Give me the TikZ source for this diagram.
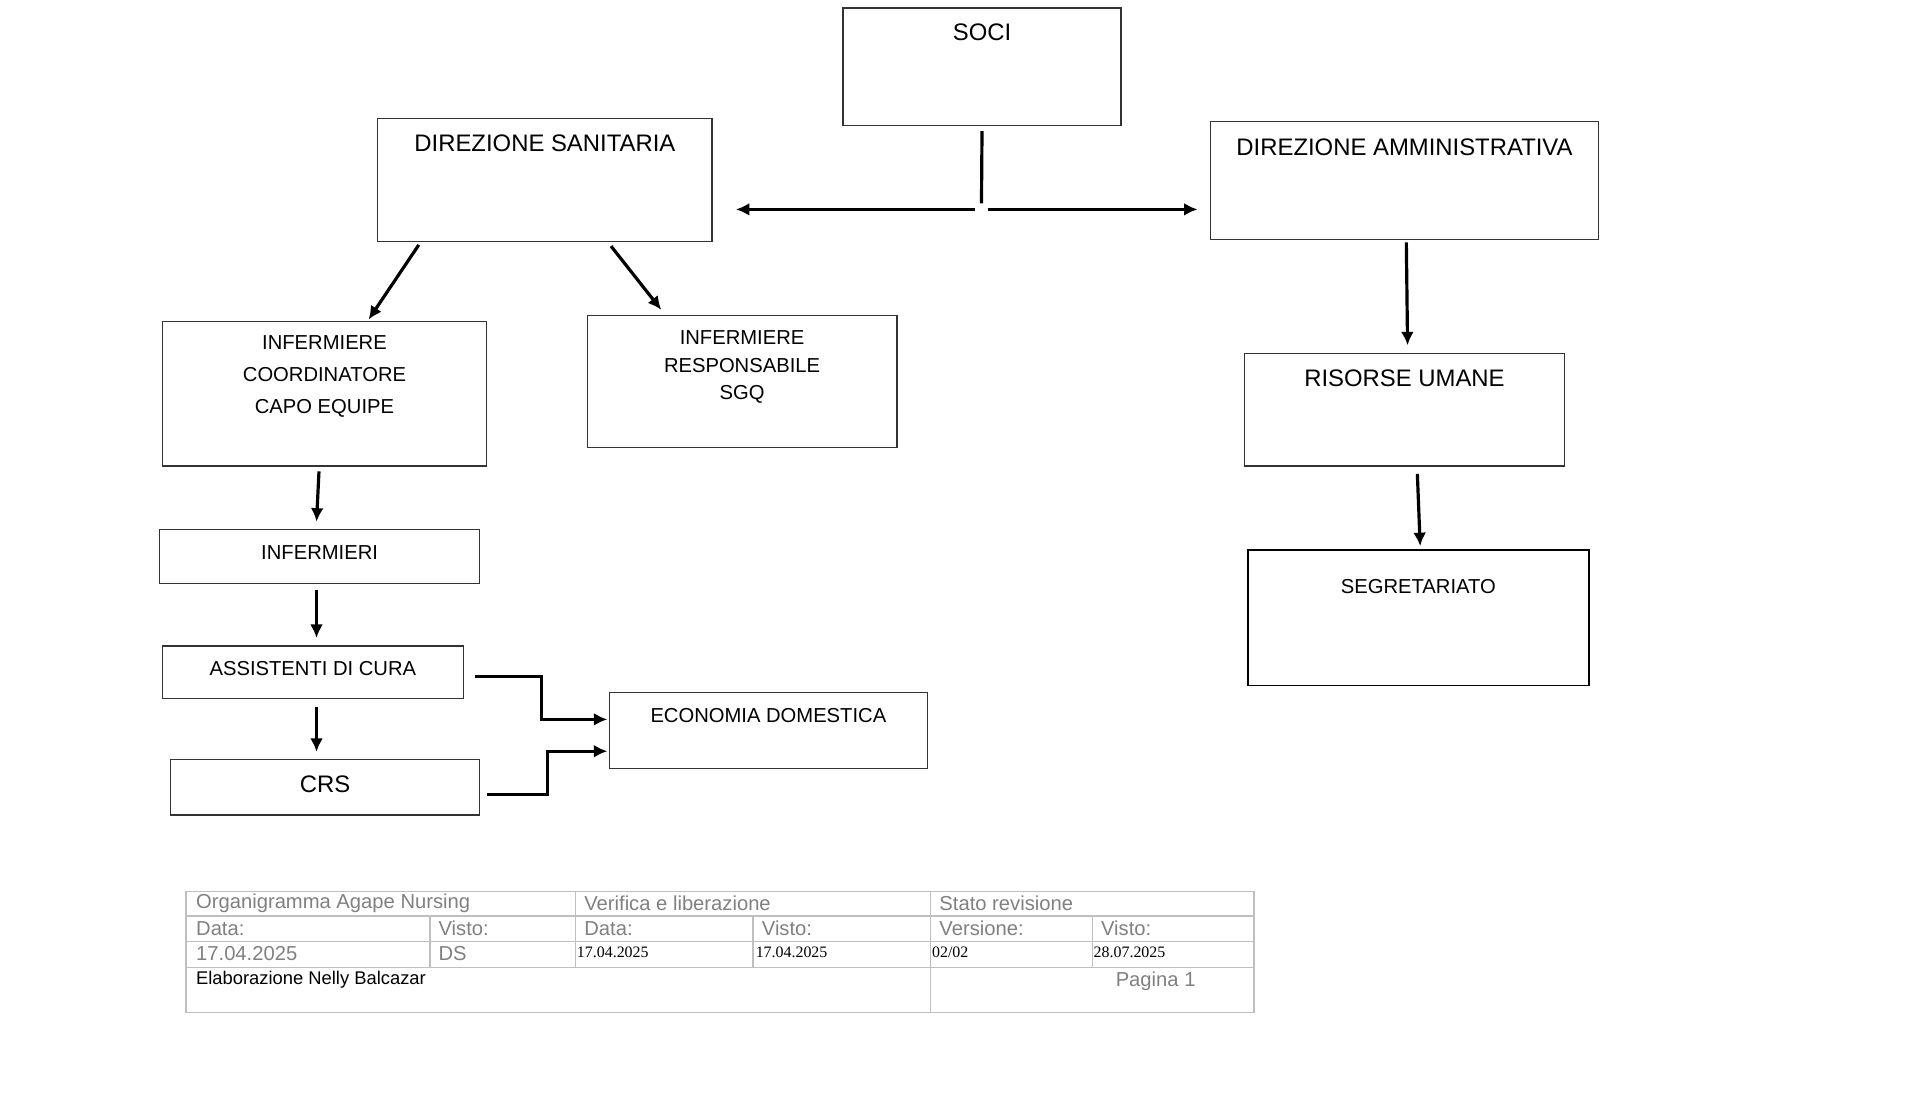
\documentclass[tikz,border=0pt]{standalone}
\usepackage{fontspec}
\setmainfont{Liberation Sans}
\newfontfamily\datefont{Liberation Serif}
\usetikzlibrary{positioning,arrows.meta}

\tikzset{
  box/.style={draw=black!80, line width=1pt, inner sep=0pt, anchor=north west},
  big/.style={font=\fontsize{19.5}{23}\selectfont},
  small/.style={font=\fontsize{16.5}{20}\selectfont},
  lbl/.style={inner sep=0pt, align=center},
  arr/.style={line width=2.6pt, -{Latex[length=11pt,width=10.5pt]}},
  grid/.style={draw=black!25, line width=1.2pt},
  cell/.style={inner sep=0pt, anchor=west, text=black!50, font=\fontsize{16.5}{20}\selectfont},
  celldate/.style={inner sep=0pt, anchor=west, font=\datefont\fontsize{13}{15}\selectfont},
}

\begin{document}
\begin{tikzpicture}[x=1pt,y=-1pt]
        \useasboundingbox (0,0) rectangle (1568,897);

        % vertici
        \node[box, minimum width=227pt, minimum height=96pt] (soci) at (688,6) {};
        \node[lbl, big, below=13pt of soci.north] (socitxt) {SOCI};
        \node[box, minimum width=273pt, minimum height=101pt] (ds) at (308,96) {};
        \node[lbl, big, below=14pt of ds.north] (dstxt) {DIREZIONE SANITARIA};
        \node[box, minimum width=317pt, minimum height=96pt] (da) at (988,99) {};
        \node[lbl, big, below=14pt of da.north] (datxt) {DIREZIONE AMMINISTRATIVA};

        % area sanitaria
        \node[box, minimum width=265pt, minimum height=118pt] (ic) at (132,262) {};
        \node[lbl, font=\fontsize{16.5}{26}\selectfont, below=12pt of ic.north] (ictxt) {INFERMIERE\\COORDINATORE\\CAPO EQUIPE};
        \node[box, minimum width=253pt, minimum height=108pt] (ir) at (479,257) {};
        \node[lbl, font=\fontsize{16.5}{22.5}\selectfont, below=13pt of ir.north] (irtxt) {INFERMIERE\\RESPONSABILE\\SGQ};
        \node[box, small, minimum width=261pt, minimum height=44pt, text depth=7pt] (inf) at (130,432) {INFERMIERI};
        \node[box, small, minimum width=246pt, minimum height=43pt, text depth=7pt] (ac) at (132,527) {ASSISTENTI DI CURA};
        \node[box, big, minimum width=252pt, minimum height=45pt, text depth=6pt] (crs) at (139,620) {CRS};
        \node[box, minimum width=260pt, minimum height=62pt] (econ) at (497,565) {};
        \node[lbl, small, below=13pt of econ.north] (econtxt) {ECONOMIA DOMESTICA};

        % area amministrativa
        \node[box, minimum width=261pt, minimum height=92pt] (ru) at (1016,288) {};
        \node[lbl, big, below=14pt of ru.north] (rutxt) {RISORSE UMANE};
        \node[box, draw=black, line width=1.6pt, minimum width=279pt, minimum height=111pt] (seg) at (1018,448) {};
        \node[lbl, small, below=25pt of seg.north] (segtxt) {SEGRETARIATO};

        % collegamenti
        \coordinate (split) at (801.5,171);
        \draw[line width=2.6pt, shorten <=4pt, shorten >=5pt] (soci.south) -- (split);
        \draw[arr, shorten <=5pt, shorten >=19pt] (split) -- (ds.east |- split);
        \draw[arr, shorten <=5pt, shorten >=10pt] (split) -- (da.west |- split);

        \draw[arr] ([xshift=34pt,yshift=-2pt]ds.south west) -- ([xshift=169pt,yshift=1pt]ic.north west);
        \draw[arr] ([xshift=191pt,yshift=-3pt]ds.south west) -- ([xshift=61pt,yshift=4pt]ir.north west);
        \draw[arr] ([xshift=1.5pt,yshift=-2pt]da.south) -- ([xshift=2.5pt,yshift=6pt]ru.north);
        \draw[arr] ([xshift=10.5pt,yshift=-6pt]ru.south) -- ([xshift=1.5pt,yshift=2pt]seg.north);

        \draw[arr] ([xshift=-4.5pt,yshift=-4pt]ic.south) -- ([xshift=-2.5pt,yshift=6pt]inf.north);
        \draw[arr] ([xshift=-2.5pt,yshift=-5pt]inf.south) -- ([xshift=3pt,yshift=6pt]ac.north);
        \draw[arr] ([xshift=3pt,yshift=-6pt]ac.south) -- ([xshift=-7pt,yshift=6pt]crs.north);
        \draw[arr] ([xshift=9pt,yshift=-3.5pt]ac.east) -- ++(54,0) |- ([xshift=-1pt,yshift=9pt]econ.west);
        \draw[arr] ([xshift=6pt,yshift=-5.5pt]crs.east) -- ++(49,0) |- ([xshift=-1pt,yshift=-17pt]econ.west);

        % tabella
        \draw[grid] (152,728) rectangle (1024,827);
        \draw[grid] (152,748) -- (1024,748) (152,769) -- (1024,769) (152,790) -- (1024,790);
        \draw[grid] (470,728) -- (470,790) (760,728) -- (760,827);
        \foreach \x in {351,615,892}
            \draw[grid] (\x,748) -- (\x,790);

        \node[cell] (t1) at (160,738) {Organigramma Agape Nursing};
        \node[cell] (t2) at (477,738) {Verifica e liberazione};
        \node[cell] (t3) at (767,738) {Stato revisione};
        \node[cell] (t4) at (160,758) {Data:};
        \node[cell] (t5) at (358,758) {Visto:};
        \node[cell] (t6) at (477,758) {Data:};
        \node[cell] (t7) at (622,758) {Visto:};
        \node[cell] (t8) at (767,758) {Versione:};
        \node[cell] (t9) at (899,758) {Visto:};
        \node[cell] (t10) at (160,779) {17.04.2025};
        \node[cell] (t11) at (358,779) {DS};
        \node[celldate] (t12) at (471,778) {17.04.2025};
        \node[celldate] (t13) at (617,778) {17.04.2025};
        \node[celldate] (t14) at (761,778) {02/02};
        \node[celldate] (t15) at (893,778) {28.07.2025};
        \node[cell, text=black, font=\fontsize{15}{18}\selectfont] (t16) at (160,800) {Elaborazione Nelly Balcazar};
        \node[cell] (t17) at (911,801) {Pagina 1};
\end{tikzpicture}
\end{document}
